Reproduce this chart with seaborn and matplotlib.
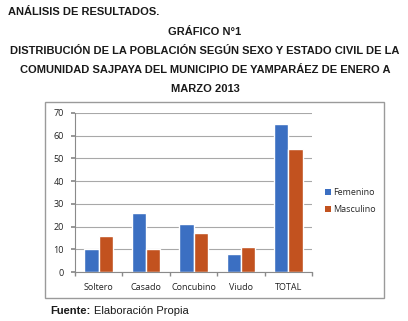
import matplotlib
matplotlib.use("Agg")
import matplotlib.pyplot as plt
import seaborn as sns
import pandas as pd
from matplotlib.patches import Rectangle, Patch

categories = ["Soltero", "Casado", "Concubino", "Viudo", "TOTAL"]
femenino = [10, 26, 21, 8, 65]
masculino = [16, 10, 17, 11, 54]
series = ["Femenino", "Masculino"]
yticks = [0, 10, 20, 30, 40, 50, 60, 70]

df = pd.DataFrame({
    "cat": categories * 2,
    "val": femenino + masculino,
    "sexo": [series[0]] * len(categories) + [series[1]] * len(categories),
})

sns.set_theme(style="white")
plt.rcParams["font.family"] = ["Liberation Sans", "DejaVu Sans"]

W, H = 408, 321
fig = plt.figure(figsize=(W / 100, H / 100), dpi=100)
fig.patch.set_facecolor("white")

def fx(x): return x / W
def fy(y): return 1 - y / H

# chart frame
fig.add_artist(Rectangle((fx(45), fy(298)), fx(384) - fx(45), fy(102) - fy(298),
                         transform=fig.transFigure, fill=False, edgecolor="#9a9a9a", lw=1.0))

ax = fig.add_axes([fx(75), fy(272), fx(312) - fx(75), fy(113) - fy(272)])
colors = {"Femenino": "#3b6fc2", "Masculino": "#c2521f"}
sns.barplot(data=df, x="cat", y="val", hue="sexo", palette=colors, width=0.6,
            ax=ax, saturation=1, legend=False)
ax.set_xlim(-0.5, 4.5)
ax.set_ylim(0, 70)
ax.set_yticks(yticks)
ax.set_xlabel("")
ax.set_ylabel("")
ax.grid(axis="y", color="#a8a8a8", lw=0.8)
ax.set_axisbelow(True)
for s in ["top", "right"]:
    ax.spines[s].set_visible(False)
ax.spines["left"].set_color("#8a8a8a")
ax.spines["bottom"].set_color("#8a8a8a")
ax.spines["left"].set_linewidth(0.8)
ax.spines["bottom"].set_linewidth(0.8)
ax.tick_params(axis="y", which="major", length=3, color="#8a8a8a", left=True,
               labelsize=6.5, pad=5, labelcolor="#222222")
ax.tick_params(axis="x", which="major", length=0, labelsize=6.5, pad=8, labelcolor="#222222")
ax.set_xticks([i + 0.5 for i in range(-1, len(categories))], minor=True)
ax.tick_params(axis="x", which="minor", length=3, color="#8a8a8a", bottom=True)
for lab in ax.get_xticklabels() + ax.get_yticklabels():
    lab.set_fontfamily(["Open Sans", "DejaVu Sans"])

handles = [Patch(facecolor=colors[s], edgecolor="none") for s in series]
fig.legend(handles, series, loc="center left", bbox_to_anchor=(fx(317), fy(201)),
           frameon=False, handlelength=0.6, handleheight=0.6,
           handletextpad=0.3, labelspacing=0.9, prop={"family": "Open Sans", "size": 6.5})

# titles
fig.text(fx(8), fy(12), "ANÁLISIS DE RESULTADOS.", ha="left", va="center",
         fontsize=8, fontweight="bold", color="#1a1a1a")
lines = ["GRÁFICO N°1",
         "DISTRIBUCIÓN DE LA POBLACIÓN SEGÚN SEXO Y ESTADO CIVIL DE LA",
         "COMUNIDAD SAJPAYA DEL MUNICIPIO DE YAMPARÁEZ DE ENERO A",
         "MARZO 2013"]
ys = [32, 51, 70, 89]
for t, y in zip(lines, ys):
    fig.text(fx(205), fy(y), t, ha="center", va="center", fontsize=8,
             fontweight="bold", color="#1a1a1a")

fig.text(fx(50), fy(311), "Fuente:", ha="left", va="center", fontsize=8,
         fontweight="bold", color="#1a1a1a")
fig.text(fx(94), fy(311), "Elaboración Propia", ha="left", va="center", fontsize=8,
         color="#1a1a1a")

fig.savefig("out.png", dpi=100)
